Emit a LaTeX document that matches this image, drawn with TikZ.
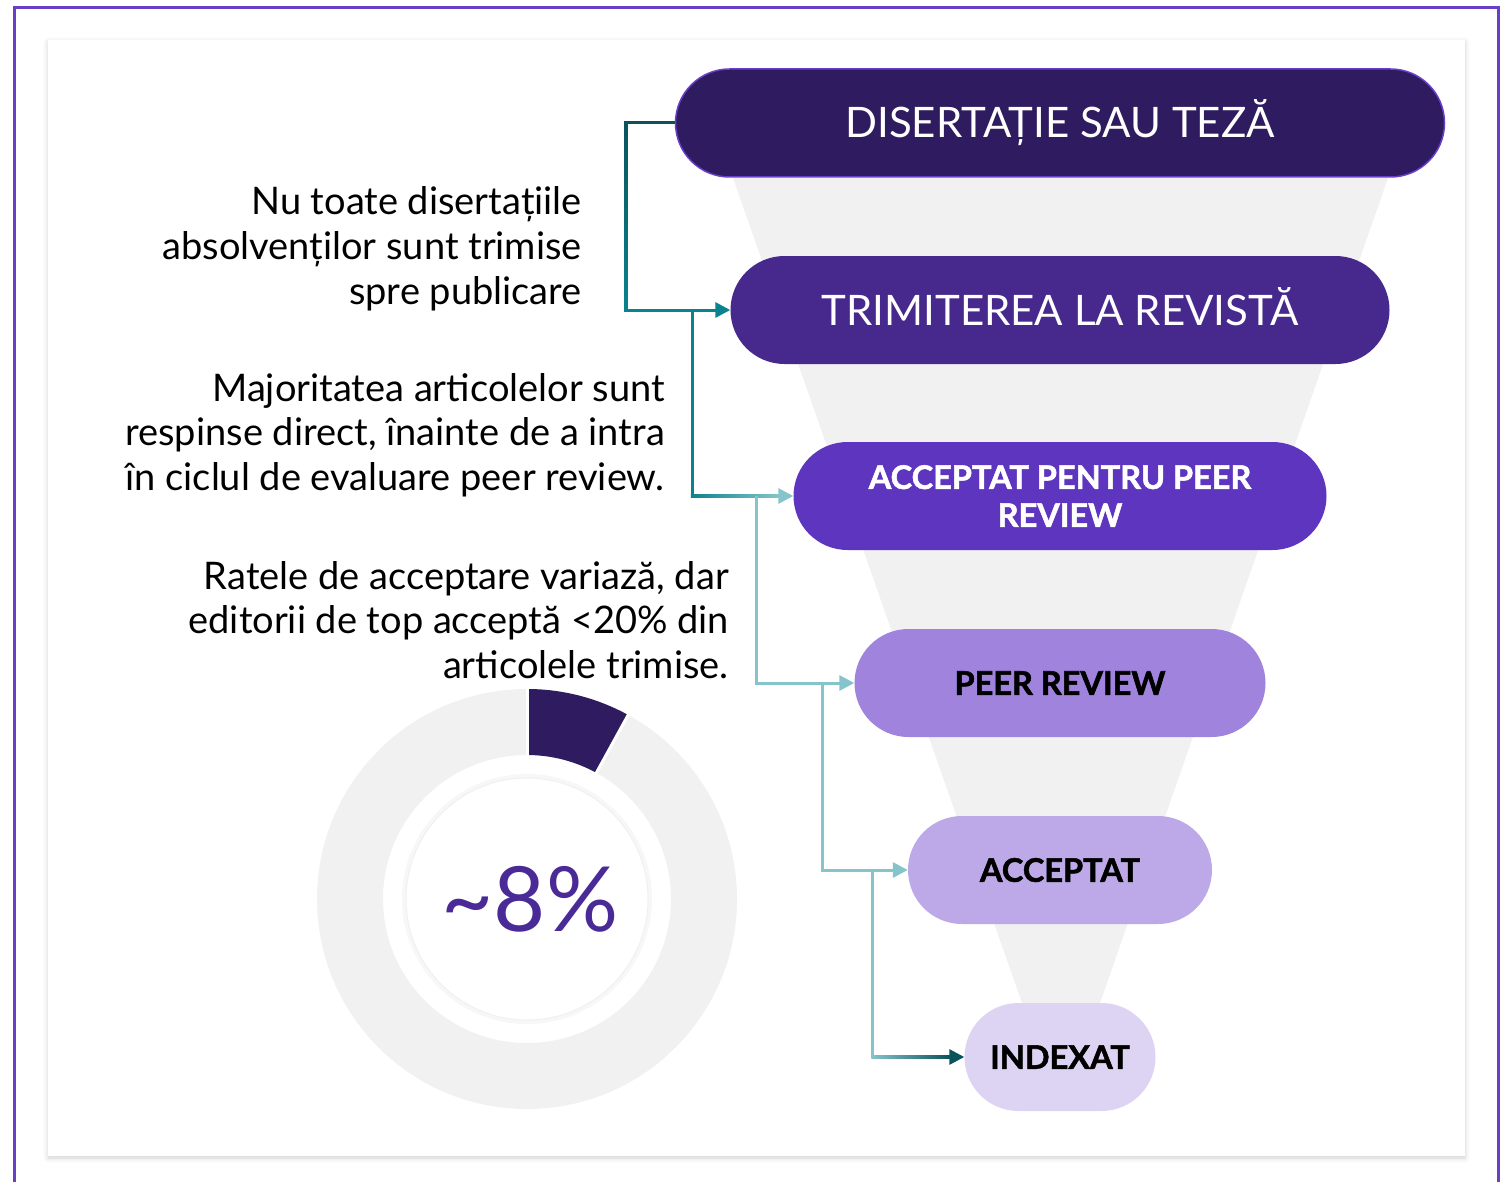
\documentclass[tikz,border=0pt]{standalone}
\usepackage{fontspec}
\setmainfont{Lato}
\newfontfamily\heavyfont{Lato}[BoldFeatures={FakeBold=1.6}]
\usetikzlibrary{arrows.meta,calc,shadows.blur}

\definecolor{framecol}{HTML}{6A3FC8}
\definecolor{stageA}{HTML}{2F1B5F}
\definecolor{stageB}{HTML}{47298D}
\definecolor{stageC}{HTML}{5E35BE}
\definecolor{stageD}{HTML}{9F83DD}
\definecolor{stageE}{HTML}{BDA9E7}
\definecolor{stageF}{HTML}{DDD4F3}
\definecolor{funnelcol}{HTML}{F1F1F1}
\definecolor{tealdark}{HTML}{0A525C}
\definecolor{tealmid}{HTML}{0A838F}
\definecolor{teallight}{HTML}{86C4CB}
\definecolor{pctcol}{HTML}{4A2A97}

\tikzset{
  stage/.style={rectangle, rounded corners=54pt, minimum height=108pt,
    inner sep=0pt, align=center},
  darkstage/.style={stage, text=white, font=\fontsize{42}{48}\selectfont,
    text height=30pt, text depth=0pt},
  boldstage/.style={stage, font=\heavyfont\fontsize{32.5}{38}\selectfont\bfseries},
  oneline/.style={text height=23.5pt, text depth=0pt},
  note/.style={anchor=base east, align=right, inner sep=0pt,
    font=\fontsize{38}{44.5}\selectfont},
  link/.style={line width=3pt, -{Triangle[length=15pt,width=15pt]}},
}

\begin{document}
\begin{tikzpicture}[x=1pt,y=-1pt]
  \useasboundingbox (0,0) rectangle (1511,1182);
  % frame and card
  \draw[framecol, line width=3.5pt] (14.5,7.5) rectangle (1498.5,1240);
  \fill[white, blur shadow={shadow xshift=0pt, shadow yshift=-2pt,
      shadow blur radius=5pt, shadow opacity=18}]
    (48,40) rectangle (1465,1156);

  % funnel behind the stages
  \fill[funnelcol] (733,178) -- (1388,178) -- (1100,1003) -- (1022,1003) -- cycle;

  % stages
  \node[darkstage, fill=stageA, draw=framecol, line width=1.5pt,
    minimum width=769pt] (dis) at (1060,123) {DISERTAȚIE SAU TEZĂ};
  \node[darkstage, fill=stageB, minimum width=659pt] (trim) at (1060,310)
    {TRIMITEREA LA REVISTĂ};
  \node[boldstage, fill=stageC, text=white, minimum width=533pt] (accpr)
    at (1060,496) {ACCEPTAT PENTRU PEER\\REVIEW};
  \node[boldstage, oneline, fill=stageD, minimum width=411pt] (peer)
    at (1060,683) {PEER REVIEW};
  \node[boldstage, oneline, fill=stageE, minimum width=304pt] (acc)
    at (1060,870) {ACCEPTAT};
  \node[boldstage, oneline, fill=stageF, minimum width=191pt] (idx)
    at (1060,1057) {INDEXAT};

  % connectors
  \coordinate (j0) at ($(dis.west)+(-49,0)$);
  \draw[link, tealmid] (dis.west) -- (j0) |- (trim.west);
  \draw[line width=3pt, tealdark] (dis.west) -- (j0);
  \shade[top color=tealdark, bottom color=tealmid]
    ($(j0)+(-1.6,-1.5)$) rectangle ($(j0 |- trim.west)+(1.6,0)$);
  \coordinate (j1) at ($(trim.west)+(-38,0)$);
  \coordinate (j2) at ($(accpr.west)+(-37,0)$);
  \coordinate (j3) at ($(peer.west)+(-32,0)$);
  \coordinate (j4) at ($(acc.west)+(-35,0)$);
  \draw[line width=3pt, tealmid] (j1) -- (j1 |- accpr.west);
  \draw[link, teallight] (j1 |- accpr.west) -- (accpr.west);
  \shade[left color=tealmid, right color=teallight]
    ($(j1 |- accpr.west)+(-1.5,-1.5)$) rectangle ($(accpr.west)+(-14,1.5)$);
  \draw[link, teallight] (j2) |- (peer.west);
  \draw[link, teallight] (j3) |- (acc.west);
  \draw[line width=3pt, teallight] (j4) -- (j4 |- idx.west);
  \draw[link, tealdark] (j4 |- idx.west) -- (idx.west);
  \shade[left color=teallight, right color=tealdark]
    ($(j4 |- idx.west)+(-1.5,-1.5)$) rectangle ($(idx.west)+(-14,1.5)$);

  % notes
  \node[note] (n1) at (582,304)
    {Nu toate disertațiile\\absolvenților sunt trimise\\spre publicare};
  \node[note] (n2) at (665,490)
    {Majoritatea articolelor sunt\\respinse direct, înainte de a intra\\în ciclul de evaluare peer review.};
  \node[note] (n3) at (729,678)
    {Ratele de acceptare variază, dar\\editorii de top acceptă <20\% din\\articolele trimise.};

  % donut
  \coordinate (c) at (527,899);
  \fill[funnelcol, even odd rule] (c) circle (210) (c) circle (144);
  \fill[stageA] ($(c)+(-90:210)$) arc[start angle=-90, end angle=-61.2, radius=210]
    -- ($(c)+(-61.2:144)$) arc[start angle=-61.2, end angle=-90, radius=144] -- cycle;
  \draw[white, line width=3pt] ($(c)+(-90:140)$) -- ($(c)+(-90:214)$);
  \draw[white, line width=3pt] ($(c)+(-61.2:140)$) -- ($(c)+(-61.2:214)$);
  \draw[black!3, line width=4pt] (c) circle (123);
  \filldraw[fill=white, draw=black!6, line width=1pt] (c) circle (121);
  \node[font=\fontsize{90}{90}\selectfont, text=pctcol] (pct) at (530,899)
    {\textasciitilde 8\%};
\end{tikzpicture}
\end{document}
